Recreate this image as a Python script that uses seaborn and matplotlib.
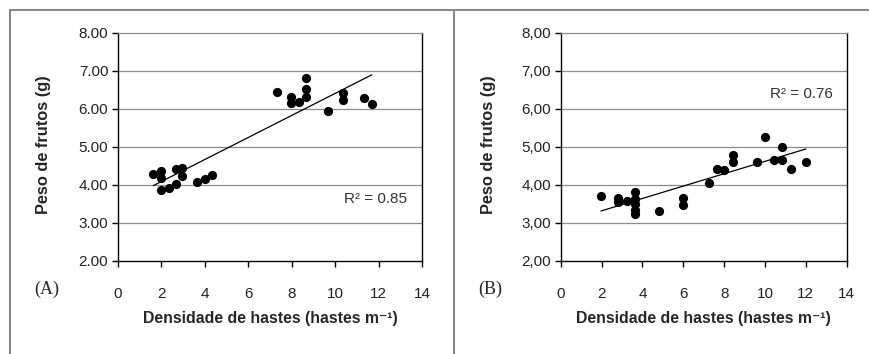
import numpy as np
import pandas as pd
import matplotlib
matplotlib.use("Agg")
import matplotlib.pyplot as plt
from matplotlib.lines import Line2D
from matplotlib.ticker import FuncFormatter
import seaborn as sns

sns.set_style("white")
plt.rcParams['font.family'] = ['Liberation Sans', 'DejaVu Sans']

# Panel A data
xa = [1.62, 1.97, 1.97, 1.97, 2.34, 2.66, 2.66, 2.97, 2.97, 3.66, 4.0, 4.34,
      7.32, 7.97, 7.97, 8.34, 8.66, 8.66, 8.66, 9.66, 10.34, 10.34, 11.34, 11.69]
ya = [4.29, 4.37, 4.17, 3.87, 3.91, 4.02, 4.42, 4.44, 4.22, 4.07, 4.14, 4.25,
      6.45, 6.32, 6.14, 6.17, 6.80, 6.51, 6.32, 5.95, 6.41, 6.23, 6.27, 6.12]
# Panel B data
xb = [1.97, 2.82, 2.82, 3.23, 3.62, 3.62, 3.62, 3.62, 3.62, 4.81, 6.0, 6.0,
      7.24, 7.63, 8.0, 8.42, 8.42, 9.62, 10.02, 10.44, 10.85, 10.85, 11.26, 12.0]
yb = [3.69, 3.65, 3.54, 3.56, 3.81, 3.63, 3.49, 3.34, 3.24, 3.32, 3.65, 3.46,
      4.04, 4.42, 4.39, 4.78, 4.61, 4.61, 5.25, 4.66, 4.98, 4.66, 4.42, 4.61]

x_ticks = [0, 2, 4, 6, 8, 10, 12, 14]
y_ticks = [2, 3, 4, 5, 6, 7, 8]
panel_labels = ["(A)", "(B)"]
r2_labels = ["R² = 0.85", "R² = 0.76"]
xlabel = "Densidade de hastes (hastes m⁻¹)"
ylabel = "Peso de frutos (g)"
decimal_sep = [".", ","]

W, H = 869, 354
fig = plt.figure(figsize=(W / 100, H / 100), dpi=100)

boxes = [(118, 422, 32.7, 260.7), (560.7, 846.7, 32.7, 260.7)]
r2_pos = [(0.95, 0.27), (0.95, 0.73)]
lab_pos = [(47, 289), (490, 289)]
ylab_x = [44, 489]

datasets = [(xa, ya), (xb, yb)]
for i, ((x, y), (l, r, t, b)) in enumerate(zip(datasets, boxes)):
    ax = fig.add_axes([l / W, 1 - b / H, (r - l) / W, (b - t) / H])
    df = pd.DataFrame({"x": x, "y": y})
    sns.scatterplot(data=df, x="x", y="y", ax=ax, color="black", s=44,
                    edgecolor="black", linewidth=0, zorder=3)
    sns.regplot(data=df, x="x", y="y", ax=ax, scatter=False, ci=None,
                truncate=True, line_kws=dict(color="black", lw=0.9, zorder=4))
    ax.set_xlim(0, 14)
    ax.set_ylim(2, 8)
    ax.set_xticks(x_ticks)
    ax.set_yticks(y_ticks)
    sep = decimal_sep[i]
    ax.yaxis.set_major_formatter(FuncFormatter(lambda v, p, s=sep: f"{v:.2f}".replace(".", s)))
    for yt in y_ticks[1:-1]:
        ax.axhline(yt, color="#8c8c8c", lw=0.9, zorder=1)
    for s in ["left", "bottom", "right"]:
        ax.spines[s].set_color("black")
        ax.spines[s].set_linewidth(1.0)
    ax.spines["top"].set_color("#8c8c8c")
    ax.spines["top"].set_linewidth(0.9)
    ax.tick_params(axis="both", direction="out", length=4, width=1.0,
                   colors="black", labelcolor="#222222", labelsize=11)
    ax.tick_params(axis="x", pad=15, bottom=True)
    ax.tick_params(axis="y", pad=3, left=True)
    ax.set_xlabel("")
    ax.set_ylabel("")
    ax.text(r2_pos[i][0], r2_pos[i][1], r2_labels[i], transform=ax.transAxes,
            ha="right", va="center", fontsize=11, color="#333333")
    cx = (l + r) / 2
    fig.text(cx / W, 1 - 319 / H, xlabel, ha="center", va="center",
             fontsize=11.4, fontweight="bold")
    fig.text(ylab_x[i] / W, 1 - 145 / H, ylabel, ha="center", va="center",
             rotation=90, fontsize=11.8, fontweight="bold")
    fig.text(lab_pos[i][0] / W, 1 - lab_pos[i][1] / H, panel_labels[i],
             ha="center", va="center", fontsize=13,
             family=["Liberation Serif", "DejaVu Serif"])

# frame lines
gray = "#8a8a8a"
fig.add_artist(Line2D([10 / W, 1], [1 - 10 / H, 1 - 10 / H], color=gray, lw=1.5))
fig.add_artist(Line2D([10 / W, 10 / W], [0, 1 - 10 / H], color=gray, lw=1.5))
fig.add_artist(Line2D([454 / W, 454 / W], [0, 1 - 10 / H], color=gray, lw=1.5))

fig.savefig("out.png", dpi=100)
